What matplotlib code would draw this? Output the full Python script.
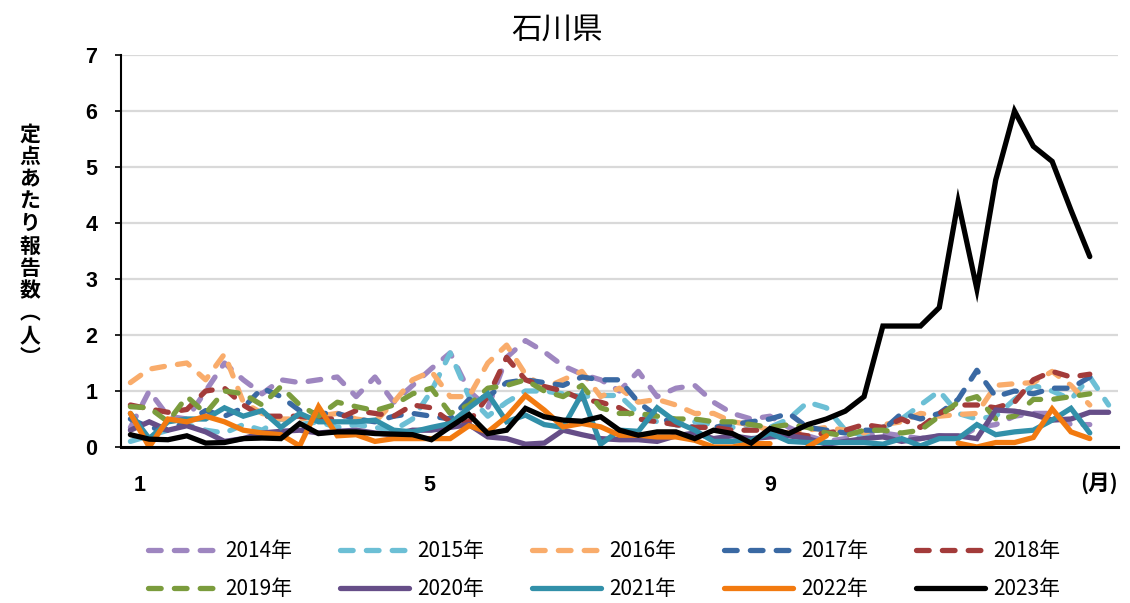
import numpy as np
import matplotlib
matplotlib.use("Agg")
import matplotlib.pyplot as plt

plt.rcParams['font.family'] = ['Noto Sans CJK JP', 'DejaVu Sans']

nan = np.nan
weeks = list(range(1, 54))
years = ['2014年', '2015年', '2016年', '2017年', '2018年',
         '2019年', '2020年', '2021年', '2022年', '2023年']

y2014 = [0.35, 1.0, 0.55, 0.5, 1.0, 1.5, 1.2, 0.95, 1.2, 1.15, 1.2, 1.25, 0.9, 1.25, 0.8, 1.1, 1.4, 1.68,
         1.0, 0.7, 1.6, 1.9, 1.7, 1.45, 1.3, 1.2, 1.0, 1.35, 0.9, 1.05, 1.1, 0.8, 0.6, 0.5, 0.55, 0.35,
         0.2, 0.1, 0.15, 0.2, 0.25, 0.2, 0.15, 0.2, 0.15, 0.35, 0.4, 0.55, 0.6, 0.6, 0.4, 0.4]
y2015 = [0.1, 0.2, 0.3, 0.4, 0.3, 0.25, 0.4, 0.3, 0.5, 0.4, 0.45, 0.35, 0.4, 0.35, 0.3, 0.5, 1.0, 1.68,
         0.9, 0.55, 0.8, 1.0, 1.0, 0.95, 0.9, 0.92, 0.92, 0.6, 0.45, 0.4, 0.45, 0.4, 0.35, 0.4, 0.35, 0.5,
         0.8, 0.7, 0.3, 0.2, 0.35, 0.5, 0.75, 1.0, 0.6, 0.5, 0.55, 0.85, 1.1, 1.0, 0.85, 1.25, 0.75]
y2016 = [1.15, 1.39, 1.45, 1.5, 1.2, 1.66, 0.8, 0.6, 0.5, 0.5, 0.55, 0.6, 0.5, 0.45, 0.8, 1.2, 1.35, 0.9,
         0.9, 1.5, 1.82, 1.3, 1.05, 1.2, 1.35, 0.9, 1.05, 0.8, 0.85, 0.75, 0.6, 0.6, 0.45, 0.4, 0.3, 0.25,
         0.3, 0.35, 0.3, 0.25, 0.4, 0.45, 0.6, 0.55, 0.58, 0.6, 1.1, 1.13, 1.15, 1.35, 1.1, 0.75]
y2017 = [0.5, 0.35, 0.3, 0.45, 0.65, 0.55, 0.7, 1.05, 0.9, 0.65, 0.6, 0.6, 0.5, 0.45, 0.55, 0.6, 0.55, 0.5,
         0.85, 0.9, 1.15, 1.2, 1.15, 1.1, 1.25, 1.2, 1.2, 0.8, 0.55, 0.4, 0.35, 0.35, 0.4, 0.45, 0.5, 0.6,
         0.35, 0.3, 0.25, 0.3, 0.3, 0.6, 0.5, 0.6, 0.85, 1.37, 0.9, 1.0, 0.95, 1.05, 1.05, 1.25]
y2018 = [0.75, 0.68, 0.62, 0.67, 1.0, 1.05, 0.75, 0.55, 0.55, 0.55, 0.5, 0.5, 0.65, 0.6, 0.55, 0.75, 0.7, 0.45,
         0.45, 0.9, 1.6, 1.2, 1.08, 1.0, 0.85, 0.8, 0.7, 0.5, 0.45, 0.4, 0.35, 0.35, 0.3, 0.3, 0.3, 0.25,
         0.2, 0.25, 0.3, 0.4, 0.35, 0.5, 0.35, 0.6, 0.75, 0.75, 0.7, 0.8, 1.2, 1.35, 1.25, 1.3]
y2019 = [0.72, 0.7, 0.45, 0.9, 0.6, 1.0, 0.95, 0.75, 1.08, 0.75, 0.55, 0.8, 0.72, 0.65, 0.75, 0.95, 1.05, 0.6,
         0.75, 1.05, 1.1, 1.2, 1.0, 0.9, 1.1, 0.7, 0.6, 0.6, 0.55, 0.5, 0.5, 0.45, 0.45, 0.4, 0.35, 0.4,
         0.35, 0.25, 0.2, 0.3, 0.3, 0.25, 0.3, 0.55, 0.8, 0.9, 0.5, 0.55, 0.85, 0.85, 0.9, 0.95]
y2020 = [0.3, 0.45, 0.3, 0.38, 0.27, 0.1, 0.15, 0.25, 0.28, 0.3, 0.25, 0.28, 0.3, 0.25, 0.22, 0.3, 0.3, 0.35,
         0.4, 0.18, 0.15, 0.05, 0.07, 0.3, 0.22, 0.15, 0.13, 0.13, 0.1, 0.2, 0.25, 0.15, 0.2, 0.15, 0.18, 0.2,
         0.15, 0.05, 0.1, 0.15, 0.18, 0.1, 0.15, 0.2, 0.2, 0.15, 0.66, 0.64, 0.58, 0.48, 0.5, 0.62, 0.62]
y2021 = [0.6, 0.15, 0.45, 0.5, 0.5, 0.7, 0.55, 0.65, 0.35, 0.6, 0.45, 0.45, 0.45, 0.48, 0.3, 0.27, 0.35, 0.42,
         0.7, 0.95, 0.45, 0.57, 0.4, 0.35, 0.95, 0.05, 0.3, 0.28, 0.7, 0.45, 0.3, 0.1, 0.1, 0.12, 0.25, 0.1,
         0.08, 0.08, 0.08, 0.08, 0.05, 0.15, 0.02, 0.15, 0.15, 0.4, 0.22, 0.27, 0.3, 0.48, 0.69, 0.25]
y2022 = [0.6, 0.0, 0.5, 0.45, 0.55, 0.45, 0.3, 0.25, 0.22, 0.02, 0.72, 0.2, 0.22, 0.1, 0.15, 0.15, 0.15, 0.15,
         0.38, 0.27, 0.54, 0.92, 0.66, 0.36, 0.42, 0.36, 0.21, 0.21, 0.18, 0.18, 0.12, 0.0, 0.0, 0.06, 0.06, nan,
         0.0, 0.2, nan, nan, nan, nan, nan, nan, 0.07, 0.0, 0.08, 0.08, 0.17, 0.68, 0.27, 0.15]
y2023 = [0.22, 0.14, 0.13, 0.2, 0.07, 0.08, 0.15, 0.16, 0.15, 0.42, 0.24, 0.27, 0.27, 0.24, 0.23, 0.22, 0.13, 0.36,
         0.58, 0.24, 0.3, 0.69, 0.54, 0.48, 0.46, 0.54, 0.3, 0.21, 0.27, 0.27, 0.15, 0.3, 0.24, 0.07, 0.33, 0.24,
         0.4, 0.5, 0.64, 0.9, 2.16, 2.16, 2.16, 2.49, 4.38, 2.82, 4.77, 6.0, 5.37, 5.1, 4.23, 3.4]

series = [y2014, y2015, y2016, y2017, y2018, y2019, y2020, y2021, y2022, y2023]
colors = ['#9E86C0', '#6CBFD5', '#F9AC6B', '#3A69A3', '#A33B3A',
          '#7B9C3D', '#664E88', '#3290A9', '#F27A10', '#000000']
dashed = [True] * 6 + [False] * 4

month_pos = [1.5, 16.9, 35.0]
month_labels = ['1', '5', '9']

fig = plt.figure(figsize=(11.3, 6.03), dpi=100)
ax = fig.add_axes([121 / 1130, 1 - 447 / 603, (1118 - 121) / 1130, (447 - 55) / 603])

handles = {}
for name, vals, c, d in zip(years, series, colors, dashed):
    x = weeks[:len(vals)]
    if d:
        ln, = ax.plot(x, vals, color=c, lw=3.8, dashes=(2.4, 2.5),
                      dash_capstyle='round', solid_capstyle='round', label=name)
    else:
        ln, = ax.plot(x, vals, color=c, lw=3.8, solid_capstyle='round',
                      solid_joinstyle='miter', label=name)
    handles[name] = ln

ax.set_xlim(0.5, 53.5)
ax.set_ylim(0, 7)
ax.set_yticks(range(0, 8))
ax.set_yticklabels([str(i) for i in range(0, 8)], fontsize=15.5, fontweight='bold',
                   family=['Liberation Sans', 'DejaVu Sans'])
ax.set_xticks(month_pos)
ax.set_xticklabels(month_labels, fontsize=15.5, fontweight='bold',
                   family=['Liberation Sans', 'DejaVu Sans'])
ax.tick_params(axis='x', length=0, pad=20)
ax.tick_params(axis='y', length=4, width=1.2, direction='out', pad=13)
ax.grid(axis='y', color='#D9D9D9', lw=1.6)
ax.set_axisbelow(True)
for s in ['top', 'right']:
    ax.spines[s].set_visible(False)
ax.spines['left'].set_linewidth(1.5)
ax.spines['bottom'].set_linewidth(2.2)

ax.text(52.5, -0.64, '(月)', fontsize=15.5, fontweight='bold', ha='center', va='center')

fig.text(557 / 1130, 1 - 30 / 603, '石川県', ha='center', va='center', fontsize=22)

ylab = '\n'.join(list('定点あたり報告数') + ['︵', '人', '︶'])
fig.text(30 / 1130, 1 - 246 / 603, ylab, ha='center', va='center', fontsize=15,
         fontweight='bold', linespacing=1.08)

order = ['2014年', '2019年', '2015年', '2020年', '2016年', '2021年', '2017年', '2022年', '2018年', '2023年']
fig.legend([handles[k] for k in order], order, loc='center', ncol=5,
           bbox_to_anchor=(604 / 1130, 1 - 570 / 603), frameon=False, fontsize=15,
           handlelength=3.3, handletextpad=0.4, columnspacing=2.3, labelspacing=0.75)

fig.savefig('out.png', dpi=100)
